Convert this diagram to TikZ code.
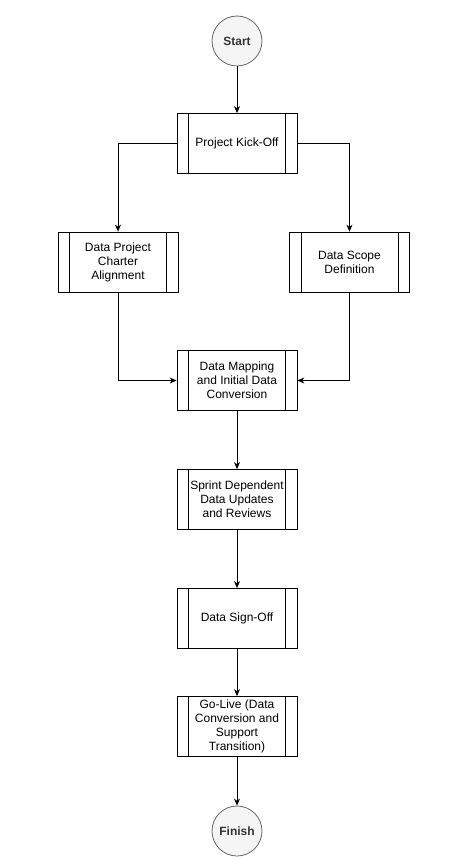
\documentclass[tikz,border=0pt]{standalone}
\usepackage{fontspec}
\setmainfont{Liberation Sans}
\usepackage{xcolor}
\usetikzlibrary{arrows.meta}
\definecolor{termfill}{HTML}{f5f5f5}
\definecolor{termline}{HTML}{666666}
\definecolor{termtext}{HTML}{333333}

\begin{document}
\begin{tikzpicture}[x=1pt, y=-1pt,
  font=\fontsize{12}{14}\selectfont,
  process/.style={draw, line width=0.8pt, minimum width=120pt, minimum height=60pt, inner sep=0pt, align=center},
  terminal/.style={circle, draw=termline, fill=termfill, line width=0.8pt, minimum size=50pt, inner sep=0pt, text=termtext, font=\fontsize{12}{14}\selectfont\bfseries},
  flow/.style={-{Stealth[length=7pt,width=6pt]}, line width=0.8pt}]
  \useasboundingbox (0,0) rectangle (471,864);
  \node[terminal] (start) at (237,41) {Start};
  \node[process] (kickoff) at (237,143.5) {Project Kick-Off};
  \node[process] (charter) at (118,262) {Data Project\\Charter\\Alignment};
  \node[process] (scope) at (349.5,262) {Data Scope\\Definition};
  \node[process] (mapping) at (237,380.5) {Data Mapping\\and Initial Data\\Conversion};
  \node[process] (sprint) at (237,499.5) {Sprint Dependent\\Data Updates\\and Reviews};
  \node[process] (signoff) at (237,618.5) {Data Sign-Off};
  \node[process] (golive) at (237,726.5) {Go-Live (Data\\Conversion and\\Support\\Transition)};
  \node[terminal] (finish) at (237,831) {Finish};
  \foreach \n in {kickoff, charter, scope, mapping, sprint, signoff, golive}
  { \draw[line width=0.8pt] ([xshift=12pt]\n.north west) -- ([xshift=12pt]\n.south west);
    \draw[line width=0.8pt] ([xshift=-12pt]\n.north east) -- ([xshift=-12pt]\n.south east);}
  \draw[flow] (start) -- (kickoff);
  \draw[flow] (kickoff.west) -| (charter.north);
  \draw[flow] (kickoff.east) -| (scope.north);
  \draw[flow] (charter.south) |- (mapping.west);
  \draw[flow] (scope.south) |- (mapping.east);
  \draw[flow] (mapping) -- (sprint);
  \draw[flow] (sprint) -- (signoff);
  \draw[flow] (signoff) -- (golive);
  \draw[flow] (golive) -- (finish);
\end{tikzpicture}
\end{document}
